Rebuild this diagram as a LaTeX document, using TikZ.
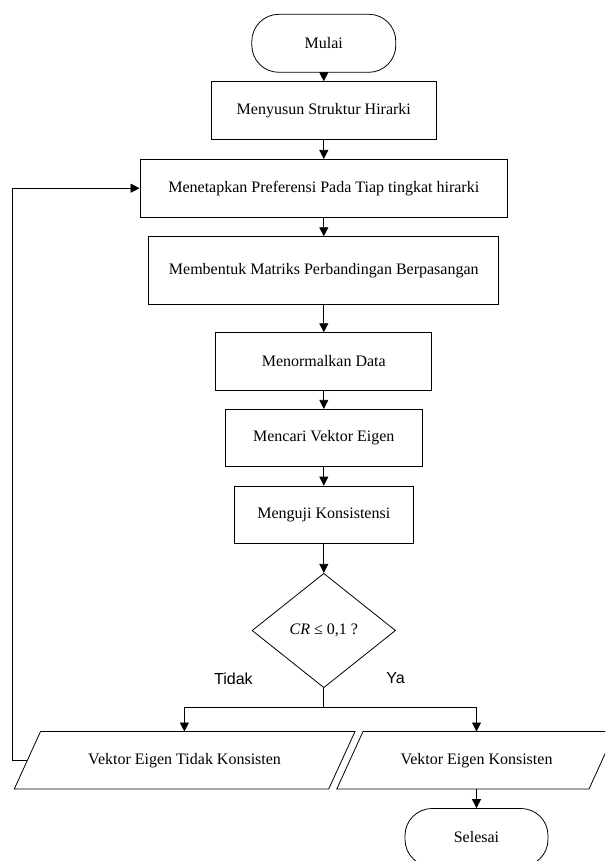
\documentclass[tikz,border=0pt]{standalone}
\usepackage{fontspec}
\setmainfont{Liberation Serif}
\newfontfamily\labelsans{Liberation Sans}
\usetikzlibrary{shapes.geometric,arrows.meta}
\begin{document}
\begin{tikzpicture}[x=1pt,y=-1pt,line width=0.8pt,
  font=\fontsize{16}{19}\selectfont,
  box/.style={draw,rectangle,inner sep=0pt,align=center},
  term/.style={draw,rectangle,rounded corners=27pt,minimum width=144pt,minimum height=58pt,inner sep=0pt},
  arr/.style={-{Triangle[length=9pt,width=9pt]}},
  dec/.style={draw,diamond,minimum width=143.5pt,minimum height=114.4pt,inner sep=0pt},
  lbl/.style={font=\labelsans\fontsize{16}{19}\selectfont}]
\path[use as bounding box] (0,0) rectangle (605,861);
\clip (0,0) rectangle (605,861);

\node[term] (mulai) at (323.8,43.3) {Mulai};
\node[box,minimum width=224.3pt,minimum height=57.6pt] (s1) at (323.8,110.5) {Menyusun Struktur Hirarki};
\node[box,minimum width=367.7pt,minimum height=57.7pt] (s2) at (323.8,188.2) {Menetapkan Preferensi Pada Tiap tingkat hirarki};
\node[box,minimum width=350pt,minimum height=67.3pt] (s3) at (323.8,270.3) {Membentuk Matriks Perbandingan Berpasangan};
\node[box,minimum width=216pt,minimum height=57.3pt] (s4) at (323.8,361.3) {Menormalkan Data};
\node[box,minimum width=197.7pt,minimum height=57.4pt] (s5) at (323.8,438) {Mencari Vektor Eigen};
\node[box,minimum width=179.3pt,minimum height=57.3pt] (s6) at (323.8,514.7) {Menguji Konsistensi};
\node[dec] (d) at (323.8,630.5) {\textit{CR} ≤ 0,1 ?};

\node[lbl] (tidak) at (233.4,679) {Tidak};
\node[lbl] (ya) at (395.5,678) {Ya};

% parallelograms
\coordinate (n1) at (14.3,789);
\coordinate (n2) at (40.5,731.5);
\coordinate (n3) at (355,731.5);
\coordinate (n4) at (328.7,789);
\draw (n1) -- (n2) -- (n3) -- (n4) -- cycle;
\node (no) at (184.6,760.3) {Vektor Eigen Tidak Konsisten};
\coordinate (noTop) at (184.4,731.5);
\coordinate (noLeft) at (27.4,760.3);

\coordinate (y1) at (336.8,789);
\coordinate (y2) at (363,731.5);
\coordinate (y3) at (615.2,731.5);
\coordinate (y4) at (589,789);
\draw (y1) -- (y2) -- (y3) -- (y4) -- cycle;
\node (yes) at (476.5,760.3) {Vektor Eigen Konsisten};
\coordinate (yesTop) at (476.5,731.5);
\coordinate (yesBot) at (476.5,789);

\node[term,minimum width=143pt] (selesai) at (476.5,837.5) {Selesai};

% connectors
\draw[arr] (mulai) -- (s1);
\draw[arr] (s1) -- (s2);
\draw[arr] (s2) -- (s3);
\draw[arr] (s3) -- (s4);
\draw[arr] (s4) -- (s5);
\draw[arr] (s5) -- (s6);
\draw[arr] (s6) -- (d);
\coordinate (split) at (323.8,707);
\draw (d.south) -- (split);
\draw[arr] (split) -| (noTop);
\draw[arr] (split) -| (yesTop);
\coordinate (fb) at (12.7,760.3);
\draw[arr] (noLeft) -- (fb) |- (s2.west);
\draw[arr] (yesBot) -- (selesai);
\end{tikzpicture}
\end{document}
